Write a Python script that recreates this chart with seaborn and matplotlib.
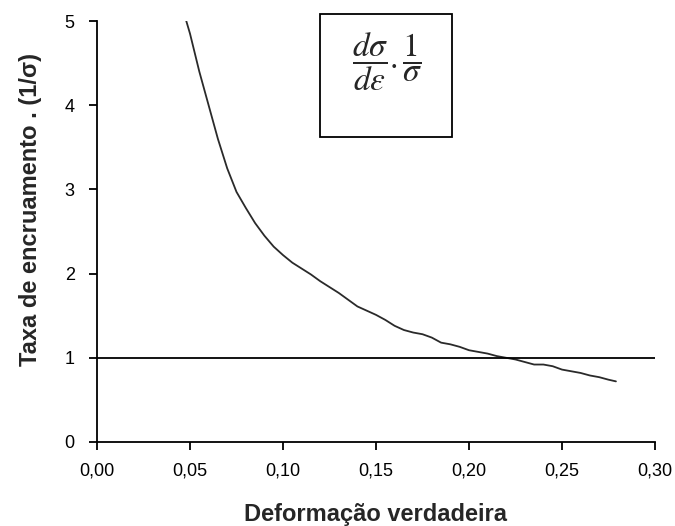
import matplotlib
matplotlib.use("Agg")
import matplotlib.pyplot as plt
import matplotlib.patches as mpatches
import seaborn as sns
import pandas as pd

# Data
strain = [0.048, 0.050, 0.055, 0.060, 0.065, 0.070, 0.075, 0.080, 0.085, 0.090,
          0.095, 0.100, 0.105, 0.110, 0.115, 0.120, 0.125, 0.130, 0.135, 0.140,
          0.145, 0.150, 0.155, 0.160, 0.165, 0.170, 0.175, 0.180, 0.185, 0.190,
          0.195, 0.200, 0.205, 0.210, 0.215, 0.220, 0.225, 0.230, 0.235, 0.240,
          0.245, 0.250, 0.255, 0.260, 0.265, 0.270, 0.275, 0.279]
rate = [5.00, 4.85, 4.40, 4.00, 3.60, 3.25, 2.97, 2.78, 2.60, 2.45,
        2.32, 2.22, 2.13, 2.06, 1.99, 1.91, 1.84, 1.77, 1.69, 1.61,
        1.56, 1.51, 1.45, 1.38, 1.33, 1.30, 1.28, 1.24, 1.18, 1.16,
        1.13, 1.09, 1.07, 1.05, 1.02, 1.00, 0.98, 0.95, 0.92, 0.92,
        0.90, 0.86, 0.84, 0.82, 0.79, 0.77, 0.74, 0.72]
ref_x = [0.0, 0.30]
ref_y = [1.0, 1.0]
x_ticks = [0.00, 0.05, 0.10, 0.15, 0.20, 0.25, 0.30]
x_tick_labels = ["0,00", "0,05", "0,10", "0,15", "0,20", "0,25", "0,30"]
y_ticks = [0, 1, 2, 3, 4, 5]

sns.set_style("ticks")
plt.rcParams["font.family"] = ["Liberation Sans", "DejaVu Sans"]
plt.rcParams["mathtext.fontset"] = "stix"

fig = plt.figure(figsize=(6.75, 5.26), dpi=100)
ax = fig.add_axes([97 / 675, 1 - 442 / 526, (655 - 97) / 675, (442 - 21) / 526])

df = pd.DataFrame({"x": strain, "y": rate})
sns.lineplot(data=df, x="x", y="y", ax=ax, color="#2a2a2a", linewidth=1.3,
             sort=False, estimator=None)
ref = pd.DataFrame({"x": ref_x, "y": ref_y})
sns.lineplot(data=ref, x="x", y="y", ax=ax, color="black", linewidth=1.3,
             sort=False, estimator=None)

ax.set_xlim(0, 0.30)
ax.set_ylim(0, 5)
ax.set_xticks(x_ticks)
ax.set_xticklabels(x_tick_labels)
ax.set_yticks(y_ticks)
ax.tick_params(axis="both", labelsize=13, length=6, width=1.3, color="black",
               labelcolor="black")
ax.tick_params(axis="x", pad=9)
ax.tick_params(axis="y", pad=10)
for s in ["left", "bottom"]:
    ax.spines[s].set_linewidth(1.3)
    ax.spines[s].set_color("black")
sns.despine(ax=ax)

ax.set_xlabel("Deformação verdadeira", fontsize=17, fontweight="bold", labelpad=17)
ax.set_ylabel("Taxa de encruamento . (1/σ)", fontsize=17, fontweight="bold")
ax.yaxis.set_label_coords(-0.098, 0.553)

rect = mpatches.Rectangle((320 / 675, 1 - 137 / 526), 132 / 675, 123 / 526,
                          transform=fig.transFigure, fill=True, facecolor="white",
                          edgecolor="black", linewidth=1.3, zorder=5)
fig.patches.append(rect)
fig.text(387 / 675, 1 - 62 / 526,
         r"$\dfrac{d\sigma}{d\varepsilon}.\dfrac{1}{\sigma}$",
         fontsize=24, ha="center", va="center", zorder=6)

fig.savefig("out.png", dpi=100)
